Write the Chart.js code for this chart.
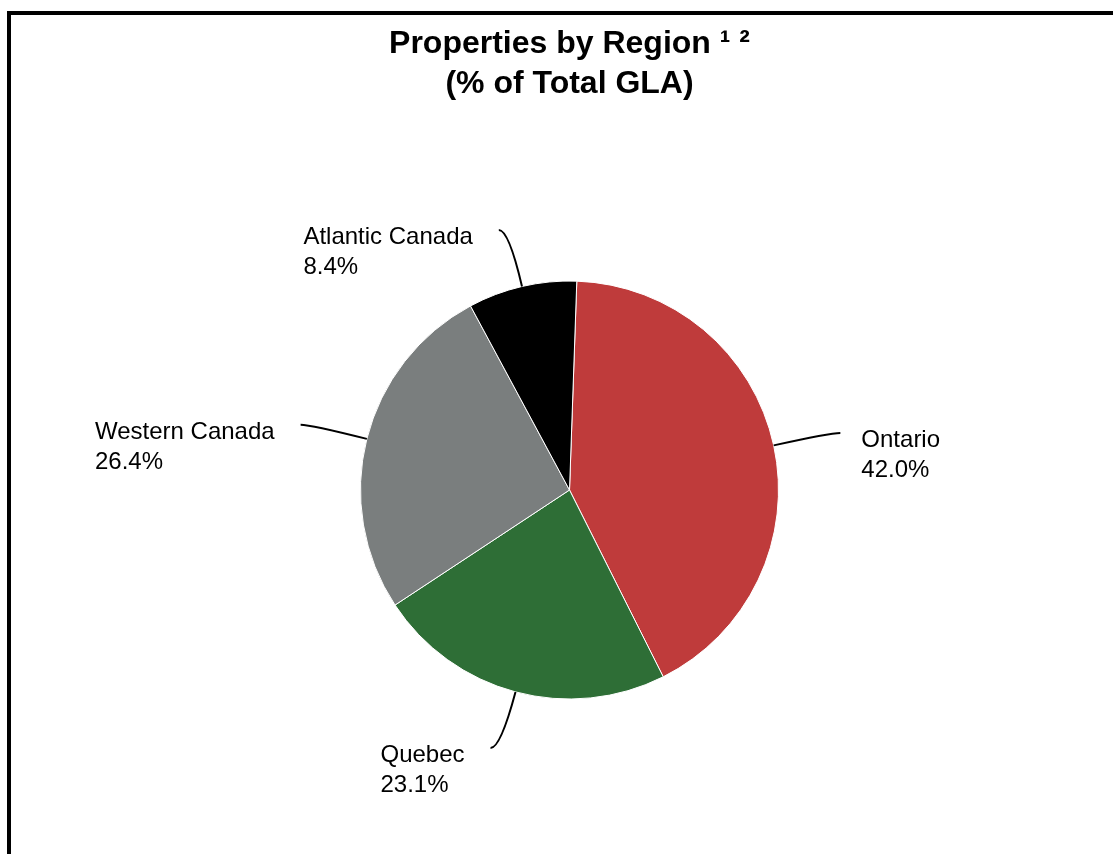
<!DOCTYPE html>
<html>
<head>
<meta charset="utf-8">
<title>Properties by Region</title>
<script src="https://cdn.jsdelivr.net/npm/chart.js@4.4.1/dist/chart.umd.min.js"></script>
<style>
  html, body { margin: 0; padding: 0; background: #fff; overflow: hidden; }
  #wrap { position: relative; width: 1113px; height: 854px; }
  #frame {
    position: absolute; left: 7px; top: 11px; width: 1200px; height: 900px;
    border-left: 4px solid #000; border-top: 4px solid #000; pointer-events: none;
  }
</style>
</head>
<body>
<div id="wrap">
  <canvas id="pie"></canvas>
  <div id="frame"></div>
</div>
<script>
// ==========================================
// DATA
// ==========================================
const regions = ['Ontario', 'Quebec', 'Western Canada', 'Atlantic Canada'];
const shares = [42.0, 23.1, 26.4, 8.4];          // % of total GLA
const sliceColors = ['#bf3b3b', '#2e6e36', '#7a7e7e', '#000000'];
const titleLines = ['Properties by Region \u00b9 \u00b2', '(% of Total GLA)'];

const FONT = '"Liberation Sans", Arial, Helvetica, sans-serif';

// Draws "Name / xx.x%" labels with a curved leader line from each slice
const leaderLabels = {
  id: 'leaderLabels',
  afterDatasetsDraw(chart) {
    const ctx = chart.ctx;
    const meta = chart.getDatasetMeta(0);
    ctx.save();
    ctx.font = '24px ' + FONT;
    ctx.fillStyle = '#000';
    ctx.strokeStyle = '#000';
    ctx.lineWidth = 2;
    ctx.textBaseline = 'alphabetic';
    ctx.textAlign = 'left';

    meta.data.forEach((arc, i) => {
      const p = arc.getProps(['x', 'y', 'startAngle', 'endAngle', 'outerRadius'], true);
      const mid = (p.startAngle + p.endAngle) / 2;
      const ux = Math.cos(mid), uy = Math.sin(mid);
      const ax = p.x + ux * p.outerRadius, ay = p.y + uy * p.outerRadius;
      const cx = ax + ux * 58, cy = ay + uy * 58;
      const side = ux < 0 ? -1 : 1;
      const ex = cx + side * 10, ey = cy;

      // leader line
      ctx.beginPath();
      ctx.moveTo(ax, ay);
      ctx.quadraticCurveTo(cx, cy, ex, ey);
      ctx.stroke();

      // label text
      const lines = [regions[i], shares[i].toFixed(1) + '%'];
      const w = Math.max(...lines.map(t => ctx.measureText(t).width));
      const tx = side < 0 ? ex - 26 - w : ex + 21;
      lines.forEach((t, k) => ctx.fillText(t, tx, ey + 14 + k * 30));
    });
    ctx.restore();
  }
};

new Chart(document.getElementById('pie'), {
  type: 'pie',
  data: {
    labels: regions,
    datasets: [{
      data: shares,
      backgroundColor: sliceColors,
      borderColor: '#ffffff',
      borderWidth: 1
    }]
  },
  options: {
    responsive: true,
    maintainAspectRatio: false,
    animation: false,
    rotation: 2,
    radius: 209,
    layout: { padding: { left: 26, right: 0, top: 0, bottom: 80 } },
    plugins: {
      legend: { display: false },
      tooltip: { enabled: false },
      title: {
        display: true,
        text: titleLines,
        color: '#000',
        font: { family: FONT, size: 32, weight: 'bold', lineHeight: 1.25 },
        padding: { top: 24, bottom: 102 }
      }
    }
  },
  plugins: [leaderLabels]
});
</script>
</body>
</html>
